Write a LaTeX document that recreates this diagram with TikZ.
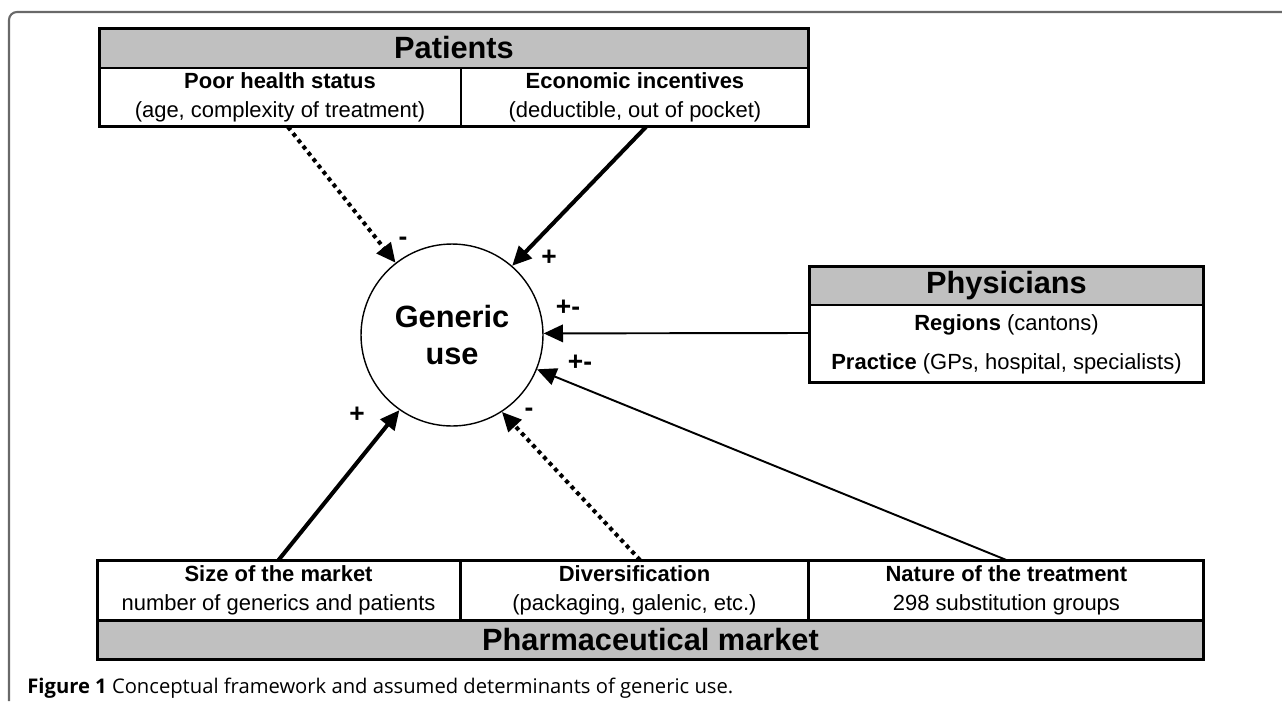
\documentclass[tikz,border=0pt]{standalone}
\usepackage{fontspec}
\setmainfont{Liberation Sans}
\newfontfamily\capfont{Open Sans}
\usetikzlibrary{arrows.meta,positioning}
\definecolor{boxgray}{RGB}{192,192,192}
\definecolor{framegray}{RGB}{105,105,105}

\begin{document}
\begin{tikzpicture}[x=0.02cm,y=-0.02cm,
  head/.style={draw,fill=boxgray,line width=1.7pt,outer sep=0pt,inner sep=0pt,font=\fontsize{17.5}{21}\selectfont\bfseries},
  cell/.style={draw,line width=1.7pt,outer sep=0pt,inner sep=0pt,align=center,font=\fontsize{12.5}{16.5}\selectfont},
  line/.style={inner sep=0pt,font=\fontsize{12.5}{15}\selectfont},
  sign/.style={inner sep=0pt,font=\fontsize{15}{18}\selectfont\bfseries},
  posarrow/.style={-{Triangle[length=11pt,width=10pt]},line width=2.3pt},
  negarrow/.style={posarrow,dash pattern=on 2.3pt off 2.3pt},
  mixarrow/.style={-{Triangle[length=11pt,width=10pt]},line width=1.1pt}]
  \useasboundingbox (0,0) rectangle (1282,701);
  \draw[framegray,line width=1.2pt,rounded corners=4.5pt] (9,701) -- (9,12) -- (1282,12);

  % Patients
  \node[head,minimum width=14.2cm,minimum height=0.8cm] (patients) at (454,48) {Patients};
  \node[cell,minimum width=7.24cm,minimum height=1.18cm,anchor=north west] (poor) at (patients.south west)
    {\textbf{Poor health status}\\(age, complexity of treatment)};
  \node[cell,minimum width=6.96cm,minimum height=1.18cm,anchor=north west] (econ) at (poor.north east)
    {\textbf{Economic incentives}\\(deductible, out of pocket)};

  % Physicians
  \node[head,minimum width=7.9cm,minimum height=0.78cm] (physicians) at (1006.5,285.5) {Physicians};
  \node[cell,minimum width=7.9cm,minimum height=1.56cm,anchor=north] (physbody) at (physicians.south) {};
  \node[line,below=0.18cm of physbody.north] (regions) {\textbf{Regions} (cantons)};
  \node[line,below=0.36cm of regions] (practice) {\textbf{Practice} (GPs, hospital, specialists)};

  % Pharmaceutical market
  \node[head,minimum width=22.14cm,minimum height=0.78cm] (market) at (650.5,639.5) {Pharmaceutical market};
  \node[cell,minimum width=7.26cm,minimum height=1.2cm,anchor=south west] (size) at (market.north west)
    {\textbf{Size of the market}\\number of generics and patients};
  \node[cell,minimum width=6.98cm,minimum height=1.2cm,anchor=south west] (div) at (size.south east)
    {\textbf{Diversification}\\(packaging, galenic, etc.)};
  \node[cell,minimum width=7.9cm,minimum height=1.2cm,anchor=south west] (nature) at (div.south east)
    {\textbf{Nature of the treatment}\\298 substitution groups};

  % Generic use
  \node[circle,draw,line width=0.8pt,minimum size=3.64cm,align=center,font=\fontsize{17.5}{21.6}\selectfont\bfseries] (gen) at (452,335) {Generic\\use};

  % Edges
  \draw[negarrow] ([xshift=0.16cm]poor.south) -- (gen.128);
  \draw[posarrow] ([xshift=0.22cm]econ.south) -- (gen.49);
  \draw[mixarrow] ([yshift=0.22cm]physbody.west) -- (gen.1);
  \draw[mixarrow] (nature.north) -- (gen.-22);
  \draw[negarrow] ([xshift=0.11cm]div.north) -- (gen.-57);
  \draw[posarrow] (size.north) -- (gen.-125);

  % Signs
  \node[sign] (s1) at (403,241) {-};
  \node[sign] (s2) at (549,258) {+};
  \node[sign] (s3) at (568,308) {+-};
  \node[sign] (s4) at (580,363) {+-};
  \node[sign] (s5) at (357,415) {+};
  \node[sign] (s6) at (529,412) {-};

  % Caption
  \node[anchor=west,inner sep=0pt,font=\capfont\fontsize{11.5}{13}\selectfont] (caption) at (27,688)
    {\textbf{Figure 1} Conceptual framework and assumed determinants of generic use.};
\end{tikzpicture}
\end{document}
